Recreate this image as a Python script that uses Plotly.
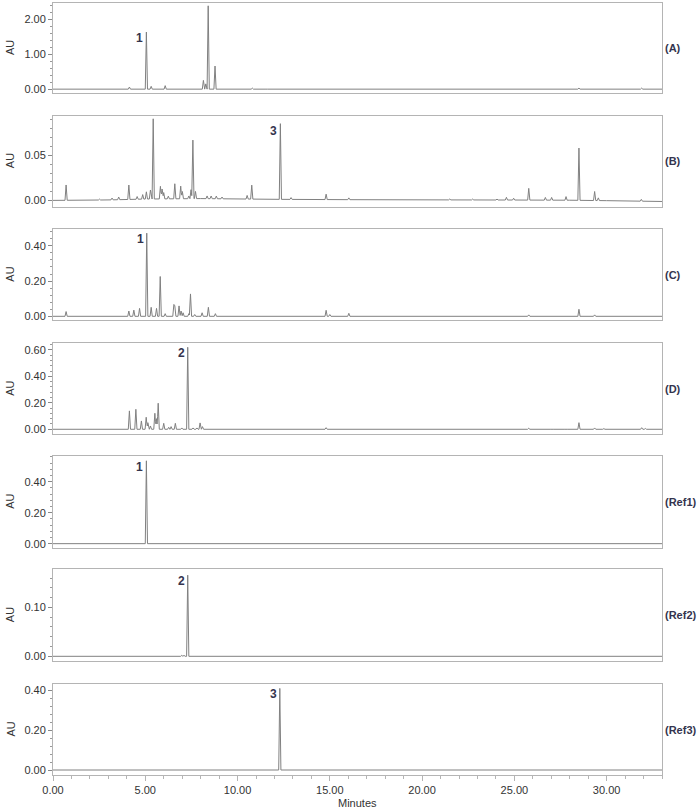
import numpy as np
import plotly.graph_objects as go

# ---------------- data ----------------
panel_names = ["(A)", "(B)", "(C)", "(D)", "(Ref1)", "(Ref2)", "(Ref3)"]

# retention times (min) and peak heights (AU) per panel
times_A = [4.14, 5.06, 5.32, 6.08, 6.6, 7.0, 7.6, 8.15, 8.28, 8.41, 8.78, 10.8, 11.55, 28.5, 31.9]
heights_A = [0.06, 1.63, 0.08, 0.10, 0.02, 0.02, 0.02, 0.25, 0.15, 2.38, 0.66, 0.03, 0.01, 0.03, 0.03]

times_B = [0.71, 2.52, 3.2, 3.56, 4.11, 4.56, 4.86, 5.06, 5.28, 5.43, 5.82, 5.91, 6.0, 6.25, 6.6,
           6.92, 7.01, 7.36, 7.48, 7.58, 7.72, 8.35, 8.57, 8.85, 9.16, 10.52, 10.77, 12.32, 12.9,
           14.8, 16.03, 21.5, 22.74, 24.06, 24.57, 24.96, 25.78, 26.68, 27.02, 27.8, 28.5, 29.35,
           29.55, 31.88]
heights_B = [0.017, 0.001, 0.002, 0.003, 0.016, 0.003, 0.005, 0.008, 0.010, 0.089, 0.014, 0.011,
             0.007, 0.003, 0.0167, 0.014, 0.008, 0.003, 0.010, 0.065, 0.008, 0.003, 0.003, 0.003,
             0.002, 0.004, 0.0155, 0.084, 0.002, 0.006, 0.002, 0.001, 0.001, 0.001, 0.003, 0.002,
             0.013, 0.003, 0.003, 0.004, 0.058, 0.010, 0.003, 0.002]

times_C = [0.71, 4.11, 4.38, 4.69, 5.08, 5.32, 5.61, 5.81, 6.08, 6.55, 6.6, 6.83, 6.94, 7.05, 7.36,
           7.45, 7.68, 8.08, 8.42, 8.8, 9.9, 14.8, 15.0, 16.03, 25.78, 27.04, 27.8, 28.5, 29.35,
           29.5, 31.9]
heights_C = [0.027, 0.03, 0.035, 0.045, 0.472, 0.051, 0.045, 0.226, 0.015, 0.059, 0.05, 0.059, 0.03,
             0.02, 0.015, 0.127, 0.01, 0.02, 0.051, 0.015, 0.004, 0.034, 0.01, 0.017, 0.008, 0.004,
             0.004, 0.04, 0.008, 0.004, 0.003]

times_D = [0.71, 1.94, 4.14, 4.49, 4.79, 5.05, 5.14, 5.28, 5.52, 5.61, 5.7, 6.0, 6.27, 6.4, 6.63,
           6.98, 7.3, 7.59, 7.8, 7.97, 8.1, 14.8, 16.0, 25.78, 27.04, 27.8, 28.5, 29.35, 29.85,
           31.9, 32.1]
heights_D = [0.005, 0.003, 0.139, 0.151, 0.063, 0.091, 0.05, 0.025, 0.121, 0.08, 0.197, 0.045, 0.015,
             0.02, 0.045, 0.01, 0.62, 0.01, 0.01, 0.048, 0.02, 0.012, 0.004, 0.008, 0.003, 0.003,
             0.05, 0.01, 0.005, 0.012, 0.006]

times_R1 = [5.06]
heights_R1 = [0.535]

times_R2 = [6.98, 7.1, 7.3]
heights_R2 = [0.002, 0.002, 0.166]

times_R3 = [12.29]
heights_R3 = [0.408]

# baselines (time, AU)
base_t_flat = [0.0, 33.0]
base_v_flat = [0.0, 0.0]
base_t_B = [0.0, 3.0, 5.0, 8.0, 12.0, 16.0, 20.0, 25.0, 28.0, 30.0, 33.0]
base_v_B = [0.0, 0.0005, 0.0015, 0.002, 0.0012, 0.0008, 0.0006, 0.0004, 0.0002, -0.0003, -0.0012]

# labelled peaks: (panel index, time, height, text)
label_panel = [0, 1, 2, 3, 4, 5, 6]
label_time = [5.06, 12.32, 5.08, 7.3, 5.06, 7.3, 12.29]
label_height = [1.63, 0.084, 0.472, 0.62, 0.535, 0.166, 0.408]
label_text = ["1", "3", "1", "2", "1", "2", "3"]

# axis settings per panel
y_ranges = [[-0.11, 2.46], [-0.007, 0.094], [-0.021, 0.494], [-0.038, 0.65],
            [-0.026, 0.566], [-0.0096, 0.178], [-0.025, 0.43]]
y_dticks = [1.0, 0.05, 0.2, 0.2, 0.2, 0.1, 0.2]
x_range = [0, 33]
x_dtick = 5

# ---------------- styling ----------------
W, H = 699, 809
ML, MR, MT, MB = 53, 37, 3, 34
plot_h = H - MT - MB
panel_px = [(3, 93), (115.7, 206.7), (229.3, 320), (343.3, 434.3),
            (456, 547.7), (569.3, 661), (684, 775)]
PEAK_HW = 0.06
LINE_COLOR = "#808080"
FRAME_COLOR = "#b4b4b4"
TEXT_COLOR = "#333333"
LABEL_COLOR = "#34344e"
FONT = "Liberation Sans, Arial, sans-serif"


def build(times, heights, bt, bv):
    xs = set(bt)
    for t in times:
        for d in (-PEAK_HW, 0.0, PEAK_HW):
            xs.add(round(t + d, 4))
    xs = np.array(sorted(x for x in xs if x_range[0] <= x <= x_range[1]))
    ys = np.interp(xs, bt, bv)
    for t, h in zip(times, heights):
        ys = ys + np.clip(h * (1 - np.abs(xs - t) / PEAK_HW), 0, None)
    return xs, ys


series = [
    (times_A, heights_A, base_t_flat, base_v_flat),
    (times_B, heights_B, base_t_B, base_v_B),
    (times_C, heights_C, base_t_flat, base_v_flat),
    (times_D, heights_D, base_t_flat, base_v_flat),
    (times_R1, heights_R1, base_t_flat, base_v_flat),
    (times_R2, heights_R2, base_t_flat, base_v_flat),
    (times_R3, heights_R3, base_t_flat, base_v_flat),
]

fig = go.Figure()
layout = dict(
    width=W, height=H,
    margin=dict(l=ML, r=MR, t=MT, b=MB),
    paper_bgcolor="white", plot_bgcolor="white",
    showlegend=False,
    font=dict(family=FONT, size=11, color=TEXT_COLOR),
)
annotations = []
n = len(series)
for i, (tt, hh, bt, bv) in enumerate(series):
    k = "" if i == 0 else str(i + 1)
    xs, ys = build(tt, hh, bt, bv)
    fig.add_trace(go.Scatter(x=xs, y=ys, mode="lines",
                             line=dict(color=LINE_COLOR, width=1),
                             xaxis="x" + k, yaxis="y" + k, hoverinfo="skip"))
    top, bot = panel_px[i]
    dom = [(H - MB - bot) / plot_h, (H - MB - top) / plot_h]
    dom = [max(0, dom[0]), min(1, dom[1])]
    last = i == n - 1
    layout["xaxis" + k] = dict(
        domain=[0, 1], anchor="y" + k, range=x_range, showgrid=False, zeroline=False,
        showline=True, mirror=True, linecolor=FRAME_COLOR, linewidth=1,
        showticklabels=last, ticks="outside" if last else "",
        dtick=x_dtick, tick0=0, tickformat=".2f", ticklen=5, tickcolor=FRAME_COLOR,
        minor=dict(dtick=1, ticks="outside" if last else "", ticklen=3, tickcolor=FRAME_COLOR,
                   showgrid=False),
        tickfont=dict(size=11, color=TEXT_COLOR),
    )
    dt = y_dticks[i]
    layout["yaxis" + k] = dict(
        domain=dom, anchor="x" + k, range=y_ranges[i], showgrid=False, zeroline=False,
        showline=True, mirror=True, linecolor=FRAME_COLOR, linewidth=1,
        ticks="outside", ticklen=4, tickcolor="#888888", dtick=dt, tick0=0,
        tickformat=".2f",
        minor=dict(dtick=dt / 5, ticks="outside", ticklen=2, tickcolor="#999999", showgrid=False),
        tickfont=dict(size=11, color=TEXT_COLOR),
    )
    ymid = (dom[0] + dom[1]) / 2
    annotations.append(dict(xref="paper", yref="paper", x=(10 - ML) / (W - ML - MR), y=ymid,
                            text="AU", textangle=-90, showarrow=False,
                            xanchor="center", yanchor="middle",
                            font=dict(size=11, color=TEXT_COLOR)))
    annotations.append(dict(xref="paper", yref="paper", x=1.0, y=ymid, xshift=1,
                            text="<b>" + panel_names[i] + "</b>", showarrow=False,
                            xanchor="left", yanchor="middle",
                            font=dict(size=11, color=LABEL_COLOR)))

for p, t, h, s in zip(label_panel, label_time, label_height, label_text):
    k = "" if p == 0 else str(p + 1)
    annotations.append(dict(xref="x" + k, yref="y" + k, x=t, y=h, text="<b>" + s + "</b>",
                            showarrow=False, xanchor="right", yanchor="top",
                            xshift=-1, yshift=3,
                            font=dict(size=12, color=LABEL_COLOR)))

annotations.append(dict(xref="paper", yref="paper", x=0.5, y=-(803 - (H - MB)) / plot_h,
                        text="Minutes", showarrow=False, xanchor="center", yanchor="middle",
                        font=dict(size=11, color=TEXT_COLOR)))
layout["annotations"] = annotations
fig.update_layout(**layout)
fig.write_html("out.html")
